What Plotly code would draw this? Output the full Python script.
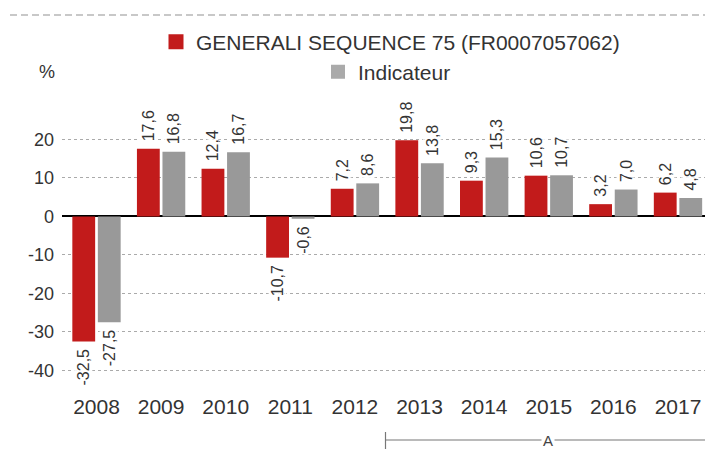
import plotly.graph_objects as go

years = ["2008", "2009", "2010", "2011", "2012", "2013", "2014", "2015", "2016", "2017"]
fund = [-32.5, 17.6, 12.4, -10.7, 7.2, 19.8, 9.3, 10.6, 3.2, 6.2]
index_vals = [-27.5, 16.8, 16.7, -0.6, 8.6, 13.8, 15.3, 10.7, 7.0, 4.8]
fund_name = "GENERALI SEQUENCE 75 (FR0007057062)"
index_name = "Indicateur"
y_ticks = [20, 10, 0, -10, -20, -30, -40]

RED = "#C21B1B"
GREY = "#999999"
LEG_GREY = "#AAAAAA"
TXT = "#333333"
FONT = "Liberation Sans, Arial, sans-serif"
HALO = ("3px 0 1px #fff, -3px 0 1px #fff, 0 3px 1px #fff, 0 -3px 1px #fff, "
        "3px 3px 1px #fff, -3px -3px 1px #fff, 3px -3px 1px #fff, -3px 3px 1px #fff")

NB = "\u00a0"


def fmt(v):
    s = f"{v:.1f}".replace(".", ",")
    return NB + s if v >= 0 else s + NB


# page pixel -> paper helpers (plot area is page x 62..705, y 101..392)
def px(x):
    return (x - 62) / 643


def py(y):
    return (392 - y) / 291


fig = go.Figure()
fig.add_trace(go.Bar(
    x=years, y=fund, name=fund_name, marker_color=RED, marker_line_width=0,
    text=[fmt(v) for v in fund], textposition="outside", textangle=-90,
    constraintext="none", cliponaxis=False, showlegend=False,
    textfont=dict(size=16, color=TXT, family=FONT, shadow=HALO),
))
fig.add_trace(go.Bar(
    x=years, y=index_vals, name=index_name, marker_color=GREY, marker_line_width=0,
    text=[fmt(v) for v in index_vals], textposition="outside", textangle=-90,
    constraintext="none", cliponaxis=False, showlegend=False,
    textfont=dict(size=16, color=TXT, family=FONT, shadow=HALO),
))
# legend entries (square markers)
fig.add_trace(go.Scatter(x=[None], y=[None], mode="markers", name=fund_name,
                         marker=dict(symbol="square", size=15, color=RED), legend="legend"))
fig.add_trace(go.Scatter(x=[None], y=[None], mode="markers", name=index_name,
                         marker=dict(symbol="square", size=14, color=LEG_GREY), legend="legend2"))

fig.update_layout(
    width=705, height=466,
    margin=dict(l=62, r=0, t=101, b=74),
    paper_bgcolor="white", plot_bgcolor="white",
    barmode="group", bargap=0.21, bargroupgap=0.106,
    font=dict(family=FONT, color=TXT, size=17),
    legend=dict(x=px(156), y=py(42), xanchor="left", yanchor="middle",
                orientation="h", font=dict(size=21, color=TXT, family=FONT),
                bgcolor="rgba(0,0,0,0)", borderwidth=0),
    legend2=dict(x=px(318), y=py(72), xanchor="left", yanchor="middle",
                 orientation="h", font=dict(size=21, color=TXT, family=FONT),
                 bgcolor="rgba(0,0,0,0)", borderwidth=0),
    showlegend=True,
)
fig.update_xaxes(
    type="category", range=[-0.534, 9.418], showgrid=False, showline=False,
    ticks="", tickfont=dict(size=21, color=TXT), ticklabelstandoff=0,
)
fig.update_yaxes(
    range=[-45.6, 30], tickvals=y_ticks, ticktext=[str(v) for v in y_ticks],
    showgrid=True, gridcolor="#AAAAAA", griddash="dot", gridwidth=1,
    zeroline=True, zerolinecolor="#000000", zerolinewidth=1.5,
    showline=False, ticks="", tickfont=dict(size=18, color=TXT), ticklabelstandoff=7,
)

# top dashed separator
fig.add_shape(type="line", xref="paper", yref="paper", x0=px(10), x1=1.0,
              y0=py(15), y1=py(15),
              line=dict(color="#C8C8C8", width=2, dash="7px,4px"))
# "%" unit label
fig.add_annotation(text="%", xref="paper", yref="paper", x=px(47), y=py(72.5),
                   showarrow=False, font=dict(size=18, color=TXT),
                   xanchor="center", yanchor="middle")
# period bracket "A"
fig.add_shape(type="line", xref="paper", yref="paper", x0=px(385.5), x1=1.0,
              y0=py(440), y1=py(440), line=dict(color="#777777", width=1.2))
fig.add_shape(type="line", xref="paper", yref="paper", x0=px(385.5), x1=px(385.5),
              y0=py(432), y1=py(449), line=dict(color="#777777", width=1.2))
fig.add_annotation(text="A", xref="paper", yref="paper", x=px(548), y=py(440),
                   showarrow=False, font=dict(size=15, color="#444444"), bgcolor="white",
                   xanchor="center", yanchor="middle", borderpad=1)

fig.write_html("out.html", config={"displayModeBar": False},
               post_script="document.body.style.margin='0px';document.body.style.overflow='hidden';")
